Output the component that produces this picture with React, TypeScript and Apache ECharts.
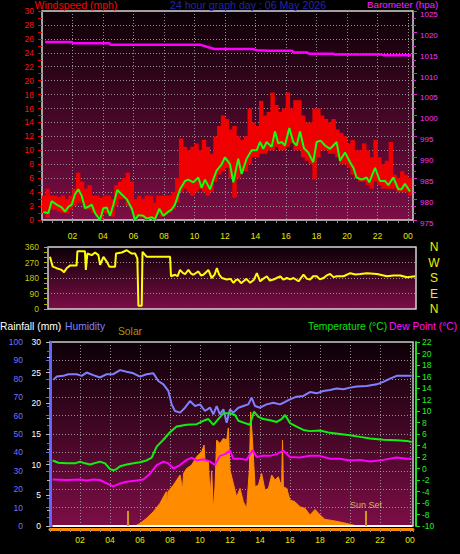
import React, { useEffect, useRef } from "react";
import * as echarts from "echarts";

// ---------- data ----------
const titleWind = "Windspeed (mph)";
const titleDate = "24 hour graph day : 06 May 2026";
const titleBaro = "Barometer (hpa)";
const titleRain = "Rainfall (mm)";
const titleHum = "Humidity";
const titleSolar = "Solar";
const titleTemp = "Temperature (°C)";
const titleDew = "Dew Point (°C)";
const compassLabels: Record<number, string> = { 0: "N", 90: "E", 180: "S", 270: "W", 360: "N" };

// gust bins: [start hour, low mph, high mph]
const gustStep = 0.25;
const gust = [
  [0, 1.0, 3.5], [0.25, 0.3, 4.5], [0.5, 1.5, 3.5], [0.75, 1.5, 3.5], [1, 1.2, 3.3], [1.25, 1.0, 3.5], [1.5, 1.0, 3.0], [1.75, 1.5, 3.5],
  [2, 2.0, 4.5], [2.25, 2.5, 6.8], [2.5, 2.5, 5.5], [2.75, 1.5, 4.5], [3, 1.5, 5.0], [3.25, 1.0, 3.5], [3.5, 0.5, 3.5], [3.75, 0, 3.2],
  [4, 1.0, 3.5], [4.25, 1.0, 3.5], [4.5, 0.5, 3.0], [4.75, 2.0, 5.0], [5, 3.0, 5.5], [5.25, 3.0, 6.0], [5.5, 2.0, 6.8], [5.75, 1.5, 5.5],
  [6, 0, 3.0], [6.25, 0.3, 3.5], [6.5, 0.3, 3.0], [6.75, 0, 3.5], [7, 0.3, 3.5], [7.25, 0, 2.5], [7.5, 0.8, 3.5], [7.75, 0.5, 3.5],
  [8, 0.8, 3.5], [8.25, 1.0, 3.5], [8.5, 1.5, 4.0], [8.75, 2.5, 6.0], [9, 4.0, 11.7], [9.25, 4.5, 10.5], [9.5, 4.0, 10.0], [9.75, 3.5, 10.5],
  [10, 4.0, 11.0], [10.25, 4.5, 10.0], [10.5, 4.0, 11.5], [10.75, 3.5, 10.5], [11, 4.0, 9.5], [11.25, 5.5, 12.0], [11.5, 6.5, 13.5], [11.75, 7.0, 15.0],
  [12, 7.5, 14.5], [12.25, 6.0, 13.0], [12.5, 3.2, 13.5], [12.75, 6.0, 12.0], [13, 7.0, 11.5], [13.25, 7.0, 12.0], [13.5, 8.0, 16.0], [13.75, 9.0, 14.0],
  [14, 9.0, 13.5], [14.25, 9.5, 17.1], [14.5, 9.5, 15.0], [14.75, 10.0, 15.5], [15, 10.0, 18.3], [15.25, 10.5, 16.5], [15.5, 10.0, 15.5], [15.75, 10.0, 16.0],
  [16, 10.5, 18.3], [16.25, 11.0, 16.0], [16.5, 10.0, 17.2], [16.75, 10.0, 17.2], [17, 9.0, 15.0], [17.25, 8.5, 14.0], [17.5, 8.0, 14.0], [17.75, 5.8, 16.0],
  [18, 9.0, 16.0], [18.25, 10.0, 15.0], [18.5, 10.0, 14.5], [18.75, 9.5, 14.0], [19, 9.5, 14.5], [19.25, 9.0, 13.0], [19.5, 8.0, 12.5], [19.75, 8.0, 12.0],
  [20, 7.5, 11.0], [20.25, 6.5, 11.5], [20.5, 6.0, 10.0], [20.75, 5.5, 10.0], [21, 5.5, 11.0], [21.25, 5.0, 10.0], [21.5, 4.5, 9.0], [21.75, 5.5, 11.5],
  [22, 5.0, 9.0], [22.25, 4.5, 8.0], [22.5, 4.5, 8.5], [22.75, 4.5, 11.2], [23, 4.5, 6.5], [23.25, 4.0, 6.0], [23.5, 4.0, 7.0], [23.75, 4.0, 6.5],
  [24, 3.5, 6.0],
];

const windAvg = [
  [0.09, 1.1], [0.42, 1.0], [0.63, 2.7], [0.96, 2.2], [1.29, 1.8], [1.51, 1.2], [1.73, 1.9], [1.95, 2.2], [2.16, 3.7], [2.38, 4.4],
  [2.6, 3.5], [2.82, 1.7], [3.04, 1.9], [3.26, 2.2], [3.48, 1.0], [3.8, 0], [4.02, 1.7], [4.24, 1.8], [4.46, 0.6], [4.68, 2.2],
  [4.94, 4.3], [5.22, 3.7], [5.55, 3.0], [5.88, 1.7], [6.1, 0], [6.32, 0.7], [6.64, 0.6], [6.86, 0.2], [7.19, 0.4], [7.41, 0.1],
  [7.69, 1.6], [7.96, 0.6], [8.28, 1.2], [8.5, 1.5], [8.72, 2.2], [9.05, 4.4], [9.38, 5.6], [9.6, 5.8], [9.92, 5.4], [10.25, 6.1],
  [10.47, 4.6], [10.69, 5.8], [11.02, 4.4], [11.23, 5.8], [11.45, 7.1], [11.78, 8.0], [12.0, 9.0], [12.33, 8.0], [12.55, 5.4], [12.87, 8.8],
  [13.09, 6.6], [13.42, 8.8], [13.75, 10], [14.08, 10], [14.3, 11.2], [14.51, 10.2], [14.73, 11.2], [15.06, 10.5], [15.28, 12.7], [15.5, 11.0],
  [15.72, 11.2], [15.93, 10.7], [16.22, 13.2], [16.48, 11.2], [16.7, 10.7], [16.92, 12.7], [17.18, 10.3], [17.46, 9.7], [17.79, 8.3], [18.01, 11.2],
  [18.27, 11.4], [18.56, 10.7], [18.89, 10.2], [19.1, 10.7], [19.32, 11.2], [19.54, 8.5], [19.87, 9.7], [20.2, 8.3], [20.42, 7.5], [20.63, 6.1],
  [20.96, 5.8], [21.29, 6.1], [21.46, 5.4], [21.84, 7.5], [22.16, 5.6], [22.49, 5.6], [22.71, 5.0], [23.04, 6.1], [23.37, 4.4], [23.58, 4.4],
  [23.8, 5.2], [24.13, 4.1],
];

const barometer = [
  [0.2, 1017.6], [1.95, 1017.6], [2.05, 1017.3], [4.4, 1017.3], [4.5, 1016.9], [10.4, 1016.9], [11.3, 1015.9], [13.8, 1015.9],
  [14.1, 1015.6], [14.8, 1015.5], [16.4, 1015.5], [16.5, 1015.1], [17.4, 1015.1], [17.5, 1014.8], [19.1, 1014.8], [19.2, 1014.6],
  [22.3, 1014.6], [22.4, 1014.4], [24.2, 1014.4],
];

const direction = [
  [0.13, 303], [0.31, 246], [0.57, 237], [0.9, 227], [1.06, 214], [1.23, 237], [1.45, 252], [1.89, 252], [1.94, 335], [2.44, 335],
  [2.5, 227], [2.6, 322], [2.89, 313], [3.11, 328], [3.33, 313], [3.44, 256], [3.66, 303], [3.88, 275], [4.05, 246], [4.43, 246],
  [4.49, 322], [4.87, 328], [5.2, 341], [5.53, 322], [5.75, 322], [5.9, 294], [5.97, 19], [6.19, 19], [6.24, 332], [6.52, 303],
  [8.06, 303], [8.12, 190], [8.39, 199], [8.55, 190], [8.72, 227], [8.9, 210], [9.05, 203], [9.27, 227], [9.45, 205], [9.6, 199],
  [9.93, 218], [10.1, 195], [10.26, 199], [10.45, 215], [10.59, 227], [10.81, 180], [11.0, 200], [11.15, 237], [11.3, 200], [11.48, 180],
  [11.81, 171], [12.05, 175], [12.25, 152], [12.4, 168], [12.56, 171], [12.75, 150], [12.91, 161], [13.1, 175], [13.35, 152], [13.6, 170],
  [13.79, 208], [14.01, 161], [14.2, 175], [14.45, 190], [14.65, 165], [14.89, 171], [15.1, 180], [15.33, 190], [15.55, 170], [15.77, 180],
  [16.0, 172], [16.21, 180], [16.54, 161], [16.87, 199], [17.1, 175], [17.31, 171], [17.5, 190], [17.75, 190], [17.95, 172], [18.19, 180],
  [18.4, 195], [18.63, 203], [18.85, 185], [19.07, 190], [19.52, 190], [19.96, 208], [20.3, 200], [20.62, 203], [21.06, 208], [21.72, 203],
  [22.38, 190], [22.82, 195], [23.26, 195], [23.7, 184], [24.25, 190],
];

const humidity = [
  [0.22, 79.4], [0.44, 81.2], [0.89, 81.6], [1.22, 82.5], [1.78, 82.5], [2.11, 81.6], [2.44, 83.4], [2.89, 82.0], [3.33, 80.7], [3.78, 82.5],
  [4.22, 82.5], [4.67, 84.7], [5.11, 83.8], [5.56, 83.0], [6.0, 81.2], [6.44, 82.5], [6.89, 83.0], [7.22, 78.8], [7.56, 77.0], [7.89, 73.4],
  [8.11, 66.1], [8.33, 62.5], [8.67, 61.6], [9.0, 64.3], [9.33, 67.9], [9.67, 65.2], [10.0, 66.1], [10.33, 62.5], [10.67, 64.3], [10.89, 60.7],
  [11.11, 65.2], [11.33, 60.7], [11.56, 63.4], [11.78, 56.1], [12.0, 63.4], [12.22, 61.6], [12.56, 64.3], [12.89, 65.2], [13.22, 66.1], [13.44, 69.8],
  [13.67, 65.2], [14.0, 64.3], [14.44, 66.1], [14.89, 67.0], [15.33, 66.1], [15.67, 67.4], [16.0, 68.8], [16.44, 70.3], [16.89, 70.7], [17.33, 72.8],
  [17.78, 72.1], [18.22, 73.4], [18.67, 73.9], [19.11, 74.7], [19.56, 74.3], [20.0, 75.2], [20.44, 75.8], [21.11, 76.1], [21.78, 77.0], [22.22, 78.3],
  [22.67, 80.1], [23.11, 81.6], [24.11, 81.6],
];

const temperature = [
  [0.18, 1.4], [0.56, 1.0], [1.11, 0.9], [1.67, 0.9], [2.0, 1.2], [2.33, 0.9], [2.67, 0.7], [3.33, 1.2], [3.67, 0.9], [4.0, -0.1],
  [4.22, -0.3], [4.44, -0.1], [4.67, 0.4], [5.11, 0.7], [5.56, 0.9], [6.0, 1.1], [6.44, 1.4], [6.78, 1.9], [7.11, 3.8], [7.56, 5.0],
  [7.89, 6.0], [8.0, 6.3], [8.44, 7.3], [9.11, 7.6], [9.78, 7.7], [10.22, 8.3], [10.56, 8.6], [10.89, 7.6], [11.22, 8.6], [11.56, 9.6],
  [12.0, 9.6], [12.33, 9.3], [12.56, 8.3], [13.0, 7.9], [13.33, 7.6], [13.6, 9.9], [13.89, 9.0], [14.22, 8.6], [14.67, 8.4], [15.11, 8.1],
  [15.44, 8.6], [15.67, 9.3], [16.0, 7.9], [16.44, 7.3], [16.89, 6.7], [17.33, 6.5], [18.0, 6.6], [18.67, 6.2], [19.33, 6.0], [20.0, 5.8],
  [20.67, 5.5], [21.33, 5.2], [22.22, 5.0], [23.11, 4.9], [23.78, 4.8], [24.11, 4.6],
];

const dewPoint = [
  [0.18, -1.9], [1.11, -2.0], [2.0, -1.9], [2.44, -2.1], [2.89, -1.9], [3.33, -2.0], [3.78, -2.6], [4.22, -3.1], [4.67, -2.6], [5.11, -2.3],
  [5.78, -2.1], [6.22, -1.9], [6.67, -0.9], [7.11, 0.6], [7.56, 1.2], [7.89, 0.9], [8.22, 0.0], [8.67, 0.6], [9.11, 1.5], [9.44, 1.9],
  [9.78, 1.4], [10.22, 1.6], [10.67, 1.2], [11.0, 0.6], [11.33, 2.2], [11.67, 2.5], [12.0, 3.1], [12.22, 1.7], [12.67, 1.7], [13.11, 1.5],
  [13.51, 3.2], [13.78, 2.0], [14.22, 2.2], [14.67, 2.2], [15.11, 2.5], [15.56, 3.1], [16.0, 2.0], [16.67, 1.9], [17.33, 2.2], [18.0, 2.2],
  [18.67, 1.7], [19.33, 1.7], [20.0, 1.4], [20.67, 1.5], [21.33, 1.2], [22.22, 1.5], [23.11, 1.9], [23.78, 1.7], [24.11, 1.7],
];

const solar = [
  [5.67, 0], [6.0, 14], [6.44, 42], [6.89, 78], [7.33, 123], [7.75, 186], [7.82, 104], [7.86, 186], [8.22, 222], [8.67, 277],
  [8.84, 200], [8.9, 285], [9.11, 313], [9.44, 331], [9.78, 377], [10.11, 404], [10.27, 440], [10.33, 359], [10.56, 350], [10.67, 158],
  [10.78, 300], [10.89, 86], [11.0, 213], [11.11, 467], [11.33, 449], [11.56, 476], [11.78, 467], [11.89, 533], [12.0, 304], [12.22, 232],
  [12.44, 158], [12.67, 204], [12.89, 132], [13.11, 96], [13.29, 304], [13.38, 620], [13.51, 449], [13.67, 213], [13.89, 222], [14.11, 286],
  [14.33, 195], [14.56, 204], [14.78, 277], [15.0, 250], [15.22, 268], [15.44, 213], [15.5, 467], [15.56, 213], [15.78, 204], [16.0, 141],
  [16.33, 132], [16.67, 104], [17.0, 96], [17.33, 60], [17.67, 90], [18.0, 60], [18.33, 36], [18.89, 29], [19.56, 18], [20.22, 5], [20.44, 0],
];

const rainfall = [[0.2, 0], [24.15, 0]];
const sunRise = 5.2;
const sunSet = 21.07;
const sunMarkerHeight = 82;

// ---------- styling helpers ----------
const FONT = "'Liberation Sans', Arial, sans-serif";
const bg = () =>
  new echarts.graphic.LinearGradient(0, 0, 0, 1, [
    { offset: 0, color: "#0c0006" },
    { offset: 1, color: "#7c0e46" },
  ]);
const gridLine = { show: true, lineStyle: { color: "#a8a8a8", type: [1, 2], width: 1, opacity: 0.85 } };
const plain = (v: number) => String(v);
const hourLabel = (v: number) => {
  const r = Math.round(v * 100) / 100;
  if (r <= 0 || Math.abs(r % 2) > 0.001) return "";
  return String(r % 24).padStart(2, "0");
};
const titleText = (text: string, x: number, y: number, fill: string, size: number) => ({
  type: "text", x, y,
  style: { text, fill, fontSize: size, fontFamily: FONT, verticalAlign: "middle" },
});

function buildOption(): any {
  const xCommon = {
    type: "value",
    min: 0,
    interval: 2,
    axisLine: { show: false },
    splitLine: gridLine,
  };
  return {
    animation: false,
    backgroundColor: "#000",
    textStyle: { fontFamily: FONT },
    grid: [
      { left: 42, top: 11, width: 371, height: 209, show: true, backgroundColor: bg(), borderColor: "#d4d4d4", borderWidth: 1.5 },
      { left: 48, top: 247, width: 368, height: 62, show: true, backgroundColor: bg(), borderColor: "#d4d4d4", borderWidth: 1.5 },
      { left: 50, top: 342, width: 363, height: 184, show: true, backgroundColor: bg(), borderColor: "#c8c8c8", borderWidth: 1.5 },
    ],
    xAxis: [
      {
        ...xCommon, gridIndex: 0, max: 24.33,
        axisTick: { show: true, length: 3, lineStyle: { color: "#909090" } },
        minorTick: { show: true, splitNumber: 3, length: 3, lineStyle: { color: "#909090" } },
        axisLabel: { color: "#e8e800", fontSize: 8.5, margin: 11, formatter: hourLabel },
      },
      {
        ...xCommon, gridIndex: 1, max: 24.3,
        axisTick: { show: false }, axisLabel: { show: false }, splitLine: { show: false },
      },
      {
        ...xCommon, gridIndex: 2, max: 24.2, offset: 3,
        axisLine: { show: true, onZero: false, lineStyle: { color: "#ff8c00", width: 3 } },
        axisTick: { show: true, length: 3, lineStyle: { color: "#909090" } },
        minorTick: { show: true, splitNumber: 3, length: 3, lineStyle: { color: "#909090" } },
        axisLabel: { color: "#e8e800", fontSize: 8.5, margin: 6, formatter: hourLabel },
      },
    ],
    yAxis: [
      {
        gridIndex: 0, type: "value", min: 0, max: 30, interval: 2, position: "left",
        axisLine: { show: false },
        axisTick: { show: true, length: 4, lineStyle: { color: "#e00000" } },
        minorTick: { show: true, splitNumber: 2, length: 4, lineStyle: { color: "#e00000" } },
        axisLabel: { color: "#ff1010", fontSize: 8.5, margin: 8, formatter: plain },
        splitLine: gridLine,
      },
      {
        gridIndex: 0, type: "value", min: 975, max: 1025, interval: 5, position: "right",
        axisLine: { show: false },
        axisTick: { show: true, length: 4, lineStyle: { color: "#e020e0" } },
        minorTick: { show: true, splitNumber: 3, length: 3, lineStyle: { color: "#e020e0" } },
        axisLabel: { color: "#ff30ff", fontSize: 8, margin: 7, verticalAlign: "top", lineHeight: 6.6, formatter: plain },
        splitLine: { show: false },
      },
      {
        gridIndex: 1, type: "value", min: 0, max: 360, interval: 90, position: "left",
        axisLine: { show: false },
        axisTick: { show: true, length: 4, lineStyle: { color: "#b0b000" } },
        minorTick: { show: true, splitNumber: 3, length: 4, lineStyle: { color: "#b0b000" } },
        axisLabel: { color: "#c8c800", fontSize: 8.5, margin: 9, formatter: plain },
        splitLine: gridLine,
      },
      {
        gridIndex: 1, type: "value", min: 0, max: 360, interval: 90, position: "right",
        axisLine: { show: false }, axisTick: { show: false }, splitLine: { show: false },
        axisLabel: {
          color: "#f0f000", fontSize: 12, margin: 18, align: "center",
          formatter: (v: number) => compassLabels[v] ?? "",
        },
      },
      {
        gridIndex: 2, type: "value", min: 0, max: 100, interval: 10, position: "left", offset: 20,
        axisLine: { show: true, lineStyle: { color: "#6464ff", width: 3 } },
        axisTick: { show: true, length: 4, lineStyle: { color: "#6464ff" } },
        minorTick: { show: true, splitNumber: 2, length: 3, lineStyle: { color: "#6464ff" } },
        axisLabel: { color: "#7070ff", fontSize: 8.5, margin: 7, formatter: plain },
        splitLine: gridLine,
      },
      {
        gridIndex: 2, type: "value", min: 0, max: 30, interval: 5, position: "left", offset: 0,
        axisLine: { show: false },
        axisTick: { show: true, length: 4, lineStyle: { color: "#b8b8b8" } },
        minorTick: { show: true, splitNumber: 2, length: 3, lineStyle: { color: "#b8b8b8" } },
        axisLabel: { color: "#ffffff", fontSize: 8.5, margin: 9, formatter: plain },
        splitLine: { show: false },
      },
      {
        gridIndex: 2, type: "value", min: -10, max: 22, interval: 2, position: "right", offset: 3,
        axisLine: { show: true, lineStyle: { color: "#20e020", width: 2 } },
        axisTick: { show: true, length: 4, lineStyle: { color: "#20e020" } },
        axisLabel: { color: "#20f020", fontSize: 8.5, margin: 6, formatter: plain },
        splitLine: { show: false },
      },
      {
        gridIndex: 2, type: "value", min: 0, max: 1000, show: false, splitLine: { show: false },
      },
    ],
    graphic: [
      titleText(titleWind, 34.5, 5, "#ff0000", 10.5),
      titleText(titleDate, 170, 5, "#2424a8", 10.6),
      titleText(titleBaro, 367, 4.3, "#ff20ff", 9.8),
      titleText(titleRain, 0, 326, "#ffffff", 10.3),
      titleText(titleHum, 65, 326, "#8080ff", 10.3),
      titleText(titleSolar, 118, 331, "#a89210", 10.3),
      titleText(titleTemp, 308, 326, "#10e010", 10.3),
      titleText(titleDew, 389, 326, "#ff10ff", 10.3),
    ],
    series: [
      {
        type: "custom", name: "Gust", xAxisIndex: 0, yAxisIndex: 0, data: gust,
        encode: { x: 0, y: [1, 2] },
        renderItem: (_p: any, api: any) => {
          const h = api.value(0);
          const p0 = api.coord([h, api.value(1)]);
          const p1 = api.coord([h + gustStep, api.value(2)]);
          return {
            type: "rect",
            shape: { x: p0[0] - 0.3, y: p1[1], width: Math.max(1, p1[0] - p0[0]) + 0.6, height: p0[1] - p1[1] },
            style: { fill: "#f00000" },
          };
        },
      },
      {
        type: "line", name: "Barometer", xAxisIndex: 0, yAxisIndex: 1, data: barometer, symbol: "none",
        lineStyle: { color: "#ff00ff", width: 2.5 },
      },
      {
        type: "line", name: "Wind", xAxisIndex: 0, yAxisIndex: 0, data: windAvg, symbol: "none",
        lineStyle: { color: "#10ff10", width: 2 },
      },
      {
        type: "line", name: "Direction", xAxisIndex: 1, yAxisIndex: 2, data: direction, symbol: "none",
        lineStyle: { color: "#ffff00", width: 2 },
      },
      {
        type: "line", name: "Solar", xAxisIndex: 2, yAxisIndex: 7, data: solar, symbol: "none",
        lineStyle: { color: "#ff8c00", width: 1 },
        areaStyle: { color: "#ff8c00", opacity: 1 },
        markLine: {
          silent: true, symbol: ["none", "none"],
          lineStyle: { color: "#d09a18", width: 2, type: "solid" },
          label: { show: false },
          data: [
            [{ coord: [sunRise, 0] }, { coord: [sunRise, sunMarkerHeight] }],
            [
              { coord: [sunSet, 0], label: { show: true, position: "end", formatter: "Sun Set", color: "#d8b468", fontSize: 9, distance: 1 } },
              { coord: [sunSet, sunMarkerHeight] },
            ],
          ],
        },
      },
      {
        type: "line", name: "Rain", xAxisIndex: 2, yAxisIndex: 5, data: rainfall, symbol: "none",
        lineStyle: { color: "#ffffff", width: 2 },
      },
      {
        type: "line", name: "Humidity", xAxisIndex: 2, yAxisIndex: 4, data: humidity, symbol: "none",
        lineStyle: { color: "#8080ff", width: 2 },
      },
      {
        type: "line", name: "Dew Point", xAxisIndex: 2, yAxisIndex: 6, data: dewPoint, symbol: "none",
        lineStyle: { color: "#ff00ff", width: 2 },
      },
      {
        type: "line", name: "Temperature", xAxisIndex: 2, yAxisIndex: 6, data: temperature, symbol: "none",
        lineStyle: { color: "#10f010", width: 2 },
      },
    ],
  };
}

export default function App() {
  const ref = useRef<HTMLDivElement>(null);
  useEffect(() => {
    document.body.style.margin = "0";
    document.body.style.background = "#000";
    const chart = echarts.init(ref.current!, null, { renderer: "svg" });
    chart.setOption(buildOption());
    return () => chart.dispose();
  }, []);
  return <div ref={ref} style={{ width: 460, height: 554, background: "#000" }} />;
}
